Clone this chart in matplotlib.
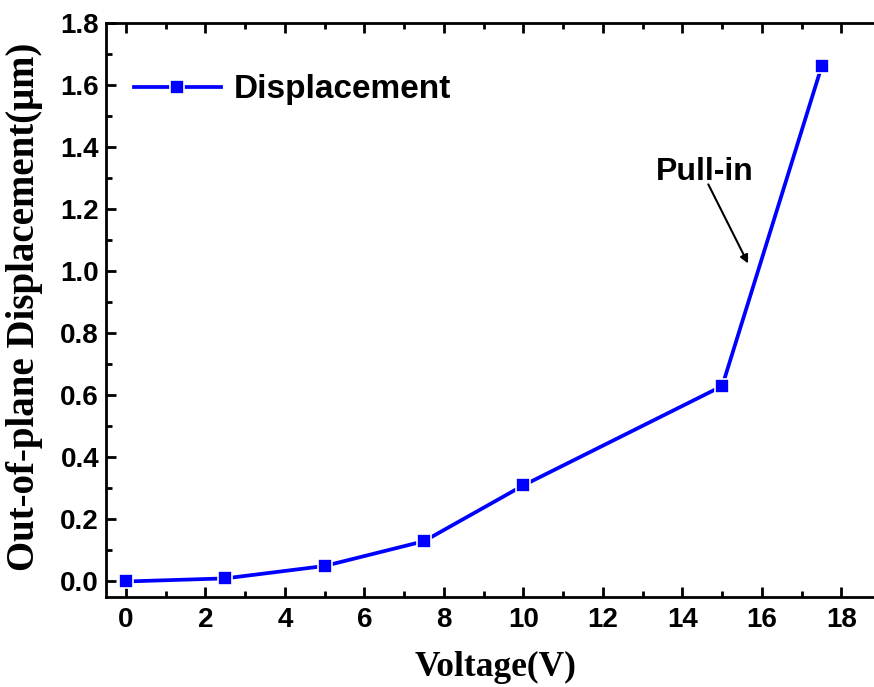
import matplotlib
matplotlib.use('Agg')

import matplotlib.pyplot as plt
from matplotlib.ticker import MultipleLocator, FormatStrFormatter

# Measured out-of-plane displacement versus drive voltage
voltage = [0, 2.5, 5, 7.5, 10, 15, 17.5]
displacement = [0.0, 0.01, 0.05, 0.13, 0.31, 0.63, 1.66]

fig = plt.figure(figsize=(8.74, 6.87), dpi=100)
# Right side of the frame runs past the canvas edge, as in the original
ax = fig.add_axes([0.1213, 0.131, 0.887, 0.8355])

ax.plot(voltage, displacement, color='#0000FF', linewidth=2.7,
        marker='s', markersize=9.8, markerfacecolor='#0000FF',
        markeredgecolor='white', markeredgewidth=1.2, label='Displacement')

ax.set_xlim(-0.5, 19)
ax.set_ylim(-0.05, 1.8)
ax.xaxis.set_major_locator(MultipleLocator(2))
ax.xaxis.set_minor_locator(MultipleLocator(1))
ax.yaxis.set_major_locator(MultipleLocator(0.2))
ax.yaxis.set_minor_locator(MultipleLocator(0.1))
ax.yaxis.set_major_formatter(FormatStrFormatter('%.1f'))

ax.tick_params(which='both', direction='in', top=True, right=False, width=2)
ax.tick_params(which='major', length=7)
ax.tick_params(which='minor', length=4)
for lbl in ax.get_xticklabels() + ax.get_yticklabels():
    lbl.set_fontfamily('Liberation Sans')
    lbl.set_fontweight('bold')
    lbl.set_fontsize(20)
ax.tick_params(axis='x', pad=7)
ax.tick_params(axis='y', pad=5)

for side in ['left', 'bottom', 'top']:
    ax.spines[side].set_linewidth(2)
ax.spines['right'].set_visible(False)

ax.set_xlabel('Voltage(V)', family='Liberation Serif', fontweight='bold',
              fontsize=25.5)
ax.set_ylabel('Out-of-plane Displacement(\u03bcm)', family='Liberation Serif',
              fontweight='bold', fontsize=28)
ax.xaxis.set_label_coords(0.503, -0.094)
ax.yaxis.set_label_coords(-0.081, 0.505)

# "Pull-in" label with a separate arrow pointing at the steep segment
ax.text(14.57, 1.32, 'Pull-in', ha='center', va='center',
        family='Liberation Sans', fontweight='bold', fontsize=23)
ax.annotate('', xy=(15.65, 1.025), xytext=(14.65, 1.28),
            arrowprops=dict(arrowstyle='-|>', color='black', lw=1.5,
                            mutation_scale=12, shrinkA=0, shrinkB=0))

ax.legend(loc='center left', frameon=False, handlelength=2.6,
          handletextpad=0.4, borderaxespad=0.3, bbox_to_anchor=(0.006, 0.8835),
          prop={'family': 'Liberation Sans', 'weight': 'bold', 'size': 24})

fig.savefig('out.png', dpi=100)
plt.close(fig)
